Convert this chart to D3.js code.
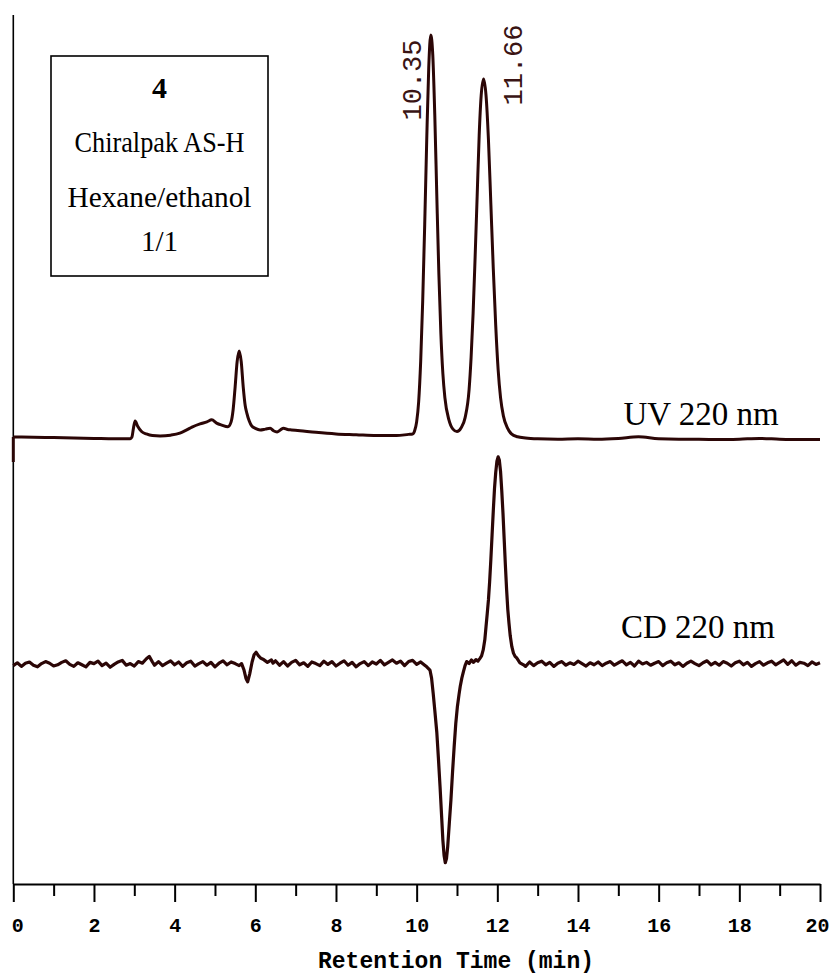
<!DOCTYPE html>
<html>
<head>
<meta charset="utf-8">
<script src="https://cdn.jsdelivr.net/npm/d3@7"></script>
<style>
  html, body { margin: 0; padding: 0; background: #fff; }
  svg { display: block; }
</style>
</head>
<body>
<svg id="chart" width="831" height="974"></svg>
<script>
// Retention time axis (min)
const timeTicks = [0, 2, 4, 6, 8, 10, 12, 14, 16, 18, 20];
const minorTicks = [1, 3, 5, 7, 9, 11, 13, 15, 17, 19];

// UV 220 nm trace: time (min) and absorbance (arbitrary units, baseline = 0)
const uvTime = [
  0.0, 0.5, 1.0, 1.5, 2.0, 2.5, 2.9, 2.94, 2.98, 3.02, 3.08, 3.18, 3.3, 3.45, 3.64, 3.9,
  4.13, 4.3, 4.43, 4.63, 4.8, 4.92, 5.04, 5.17, 5.32, 5.4, 5.45, 5.5, 5.55, 5.6, 5.65, 5.7,
  5.75, 5.79, 5.85, 5.91, 6.0, 6.12, 6.25, 6.37, 6.45, 6.54, 6.62, 6.7, 6.8, 6.9, 7.11, 7.5,
  8.0, 8.5, 9.0, 9.5, 9.8, 9.9, 9.95, 10.0, 10.05, 10.1, 10.15, 10.2, 10.25, 10.3, 10.35, 10.4,
  10.45, 10.5, 10.55, 10.6, 10.65, 10.7, 10.8, 10.9, 11.0, 11.1, 11.2, 11.3, 11.35, 11.4, 11.45, 11.5,
  11.55, 11.6, 11.66, 11.72, 11.78, 11.84, 11.9, 11.96, 12.02, 12.08, 12.15, 12.25, 12.35, 12.5, 12.7, 13.0,
  13.5, 14.0, 14.5, 15.0, 15.5, 16.0, 16.5, 17.0, 17.5, 18.0, 18.5, 19.0, 19.5, 20.0
];
const uvSignal = [
  0.25, 0.2, 0.1, 0.0, -0.1, -0.2, -0.2, 0.2, 2.5, 4.2, 3.0, 1.6, 1.0, 0.6, 0.5, 0.7,
  1.2, 2.0, 2.7, 3.5, 4.0, 4.5, 3.7, 3.2, 2.8, 4.0, 7.0, 12.7, 19.0, 21.6, 19.0, 12.7,
  8.0, 6.2, 4.2, 3.0, 2.4, 2.0, 2.2, 2.4, 1.8, 1.5, 2.0, 2.4, 2.1, 2.0, 1.8, 1.4,
  1.0, 0.8, 0.6, 0.6, 0.9, 1.0, 1.8, 4.0, 9.0, 19.0, 34.0, 53.0, 74.0, 92.0, 100.0, 95.0,
  80.0, 60.0, 41.0, 26.0, 16.0, 10.0, 4.5, 2.2, 1.6, 2.5, 5.0, 12.0, 20.0, 31.0, 45.0, 60.0,
  75.0, 85.0, 89.1, 85.0, 74.0, 58.0, 42.0, 28.0, 17.0, 10.0, 5.5, 2.5, 1.0, 0.3, 0.0, -0.2,
  -0.3, -0.2, -0.3, -0.1, 0.3, -0.2, -0.3, -0.3, -0.4, -0.3, -0.1, -0.3, -0.4, -0.4
];

// CD 220 nm trace: time (min) and ellipticity (arbitrary units, baseline = 0)
const cdTime = [
  0.0, 0.1, 0.2, 0.3, 0.4, 0.5, 0.6, 0.7, 0.8, 0.9, 1.0, 1.1, 1.2, 1.3, 1.4, 1.5,
  1.6, 1.7, 1.8, 1.9, 2.0, 2.1, 2.2, 2.3, 2.4, 2.5, 2.6, 2.7, 2.8, 2.9, 3.0, 3.1,
  3.2, 3.3, 3.37, 3.45, 3.5, 3.6, 3.7, 3.8, 3.9, 4.0, 4.1, 4.2, 4.3, 4.4, 4.5, 4.6,
  4.7, 4.8, 4.9, 5.0, 5.1, 5.2, 5.3, 5.4, 5.5, 5.6, 5.66, 5.72, 5.77, 5.81, 5.86, 5.92,
  5.97, 6.02, 6.08, 6.14, 6.19, 6.3, 6.4, 6.44, 6.5, 6.6, 6.7, 6.8, 6.9, 7.0, 7.1, 7.2,
  7.3, 7.4, 7.5, 7.6, 7.7, 7.8, 7.9, 8.0, 8.1, 8.2, 8.3, 8.4, 8.5, 8.6, 8.7, 8.8,
  8.9, 9.0, 9.1, 9.2, 9.3, 9.4, 9.5, 9.6, 9.7, 9.8, 9.9, 10.0, 10.1, 10.2, 10.25, 10.33,
  10.37, 10.41, 10.45, 10.5, 10.54, 10.58, 10.62, 10.65, 10.68, 10.71, 10.74, 10.77, 10.81, 10.85, 10.89, 10.93,
  10.97, 11.01, 11.05, 11.08, 11.12, 11.16, 11.2, 11.24, 11.3, 11.36, 11.41, 11.47, 11.52, 11.57, 11.61, 11.65,
  11.69, 11.72, 11.75, 11.78, 11.81, 11.84, 11.87, 11.9, 11.93, 11.96, 11.99, 12.02, 12.05, 12.08, 12.11, 12.14,
  12.17, 12.2, 12.23, 12.26, 12.29, 12.32, 12.36, 12.4, 12.44, 12.48, 12.56, 12.65, 12.7, 12.8, 12.9, 13.0,
  13.1, 13.2, 13.3, 13.4, 13.5, 13.6, 13.7, 13.8, 13.9, 14.0, 14.1, 14.2, 14.3, 14.4, 14.5, 14.6,
  14.7, 14.8, 14.9, 15.0, 15.1, 15.2, 15.3, 15.4, 15.5, 15.6, 15.7, 15.8, 15.9, 16.0, 16.1, 16.2,
  16.3, 16.4, 16.5, 16.6, 16.7, 16.8, 16.9, 17.0, 17.1, 17.2, 17.3, 17.4, 17.5, 17.6, 17.7, 17.8,
  17.9, 18.0, 18.1, 18.2, 18.3, 18.4, 18.5, 18.6, 18.7, 18.8, 18.9, 19.0, 19.1, 19.2, 19.3, 19.4,
  19.5, 19.6, 19.7, 19.8, 19.9, 20.0
];
const cdSignal = [
  -0.4, 0.3, -0.6, 0.2, 0.5, -0.3, -0.7, 0.1, 0.6, 0.2, -0.5, -0.2, 0.4, 0.8, -0.1, -0.6,
  0.3, -0.2, -0.7, 0.4, 0.1, 0.7, -0.4, 0.2, -0.8, -0.1, 0.5, 0.9, -0.3, 0.1, -0.5, 0.6,
  0.2, 1.3, 1.9, 0.5, -0.3, 0.6, -0.4, 0.2, 0.8, -0.2, 0.5, -0.6, 0.3, 0.7, -0.5, 0.1,
  0.6, -0.3, 0.4, -0.7, 0.2, 0.8, -0.2, 0.5, 0.1, -0.4, 0.1, -1.5, -3.6, -4.4, -2.5, 0.5,
  2.3, 2.9, 2.0, 1.4, 1.2, 0.4, 1.0, 0.2, 0.8, -0.3, 0.6, -0.5, 0.4, 0.9, -0.2, 0.3,
  -0.6, 0.5, 0.1, -0.4, 0.7, -0.1, 0.6, -0.5, 0.2, 0.8, -0.3, 0.4, -0.7, 0.1, 0.6, -0.4,
  0.5, 0.0, 0.9, -0.2, 0.4, 1.0, 0.2, 0.7, -0.4, 0.6, 0.9, -0.1, 0.5, -0.3, -0.7, -1.5,
  -3.5, -7.3, -11.5, -17.0, -23.5, -30.4, -38.0, -43.7, -47.5, -49.3, -48.3, -45.3, -39.5, -33.7, -26.8, -20.5,
  -14.8, -10.6, -7.6, -5.6, -3.5, -1.9, -0.4, 0.6, 0.1, 1.0, 0.4, 1.1, 0.7, 1.4, 2.0, 3.5,
  6.0, 9.3, 12.5, 15.9, 20.5, 26.0, 32.0, 38.0, 43.5, 47.5, 50.3, 51.4, 50.6, 47.8, 43.0, 37.5,
  31.0, 24.5, 18.5, 13.5, 10.0, 7.0, 4.3, 2.7, 1.9, 1.5, 0.3, -0.2, -0.6, 0.5, -0.4, 0.3,
  0.7, -0.2, 0.4, -0.6, 0.2, 0.6, -0.3, 0.3, -0.1, 0.7, 0.1, -0.5, 0.3, -0.2, 0.5, -0.4,
  0.2, 0.6, -0.3, 0.3, 0.8, -0.2, 0.4, -0.5, 0.7, 0.0, 0.4, -0.3, 0.2, 0.6, -0.4, 0.3,
  0.7, -0.2, 0.3, -0.6, 0.2, 0.7, 0.1, -0.4, 0.3, 0.8, -0.2, 0.4, -0.3, 0.6, 0.2, -0.5,
  0.3, 0.7, -0.2, 0.4, -0.6, 0.1, 0.6, -0.3, 0.3, 0.7, -0.2, 0.4, 1.0, -0.1, 0.8, -0.3,
  0.4, 0.2, -0.4, 0.5, -0.1, 0.3
];

// Peak annotations (retention times of the UV peaks)
const peakTimes = [10.35, 11.66];
const peakLabels = ["10.35", "11.66"];

// Conditions box text
const boxLines = ["4", "Chiralpak AS-H", "Hexane/ethanol", "1/1"];
const traceLabels = ["UV 220 nm", "CD 220 nm"];
const xTitle = "Retention Time (min)";

const svg = d3.select("#chart");
const traceColor = "#2b0606";
const labelColor = "#3a1414";

const x = d3.scaleLinear().domain([0, 20]).range([13.3, 820]);
const yUV = d3.scaleLinear().domain([0, 100]).range([438, 35]);
const yCD = d3.scaleLinear().domain([-50, 50]).range([865.5, 462.5]);

// Left frame line
svg.append("line")
  .attr("x1", x(0)).attr("x2", x(0))
  .attr("y1", 15).attr("y2", 884)
  .attr("stroke", "#000").attr("stroke-width", 1.6);

// Short marker at the UV baseline start
svg.append("line")
  .attr("x1", x(0)).attr("x2", x(0))
  .attr("y1", yUV(uvSignal[0])).attr("y2", 462)
  .attr("stroke", traceColor).attr("stroke-width", 3);

// Traces
const uvLine = d3.line()
  .x((d, i) => x(uvTime[i]))
  .y(d => yUV(d))
  .curve(d3.curveMonotoneX);

const cdLine = d3.line()
  .x((d, i) => x(cdTime[i]))
  .y(d => yCD(d))
  .curve(d3.curveLinear);

svg.append("path")
  .attr("d", uvLine(uvSignal))
  .attr("fill", "none")
  .attr("stroke", traceColor)
  .attr("stroke-width", 3)
  .attr("stroke-linejoin", "round");

svg.append("path")
  .attr("d", cdLine(cdSignal))
  .attr("fill", "none")
  .attr("stroke", traceColor)
  .attr("stroke-width", 3.2)
  .attr("stroke-linejoin", "round");

// X axis: major ticks with labels
const axisG = svg.append("g").attr("transform", "translate(0,884)");
axisG.call(d3.axisBottom(x).tickValues(timeTicks).tickSize(18).tickSizeOuter(0).tickPadding(16)
  .tickFormat(d3.format("d")));
// Minor ticks
const minorG = svg.append("g").attr("transform", "translate(0,884)");
minorG.call(d3.axisBottom(x).tickValues(minorTicks).tickSize(12).tickSizeOuter(0).tickFormat(""));
minorG.select(".domain").remove();

svg.selectAll(".domain").attr("stroke", "#000").attr("stroke-width", 2);
svg.selectAll(".tick line").attr("stroke", "#000").attr("stroke-width", 2);
axisG.selectAll(".tick text")
  .attr("fill", "#000")
  .style("font-family", "'Liberation Mono', 'Courier New', monospace")
  .style("font-weight", "bold")
  .style("font-size", "20px");
axisG.selectAll(".tick text").filter(d => d === 0).attr("x", 4);
axisG.selectAll(".tick text").filter(d => d === 20).attr("x", -3);

// Axis title
svg.append("text")
  .attr("x", 456).attr("y", 968)
  .attr("text-anchor", "middle")
  .style("font-family", "'Liberation Mono', 'Courier New', monospace")
  .style("font-weight", "bold")
  .style("font-size", "23px")
  .attr("fill", "#000")
  .text(xTitle);

// Peak labels (rotated)
const peakLabelPos = [{dx: -10, yc: 80}, {dx: 38, yc: 65}];
svg.selectAll(".peak-label")
  .data(peakTimes)
  .join("text")
  .attr("class", "peak-label")
  .attr("transform", (d, i) => `translate(${x(d) + peakLabelPos[i].dx},${peakLabelPos[i].yc}) rotate(-90)`)
  .attr("text-anchor", "middle")
  .style("font-family", "'Liberation Mono', 'Courier New', monospace")
  .style("font-size", "27px")
  .attr("fill", labelColor)
  .text((d, i) => peakLabels[i]);

// Conditions box
svg.append("rect")
  .attr("x", 51).attr("y", 56)
  .attr("width", 217).attr("height", 220)
  .attr("fill", "none")
  .attr("stroke", "#000").attr("stroke-width", 1.6);

const boxY = [98, 152, 207, 251];
const boxSize = [30, 29, 29, 29];
const boxWidth = [null, 170, 184, null];
const boxText = svg.selectAll(".box-line")
  .data(boxLines)
  .join("text")
  .attr("class", "box-line")
  .attr("x", 159.5)
  .attr("y", (d, i) => boxY[i])
  .attr("text-anchor", "middle")
  .style("font-family", "'Liberation Serif', 'Times New Roman', serif")
  .style("font-size", (d, i) => boxSize[i] + "px")
  .style("font-weight", (d, i) => i === 0 ? "bold" : "normal")
  .attr("fill", "#000")
  .text(d => d);
boxText.filter((d, i) => boxWidth[i] !== null)
  .attr("textLength", (d) => boxWidth[boxLines.indexOf(d)])
  .attr("lengthAdjust", "spacingAndGlyphs");

// Trace labels
const traceLabelPos = [[701, 425], [698, 638]];
svg.selectAll(".trace-label")
  .data(traceLabels)
  .join("text")
  .attr("class", "trace-label")
  .attr("x", (d, i) => traceLabelPos[i][0])
  .attr("y", (d, i) => traceLabelPos[i][1])
  .attr("text-anchor", "middle")
  .style("font-family", "'Liberation Serif', 'Times New Roman', serif")
  .style("font-size", "33px")
  .attr("fill", "#000")
  .text(d => d);
</script>
</body>
</html>
